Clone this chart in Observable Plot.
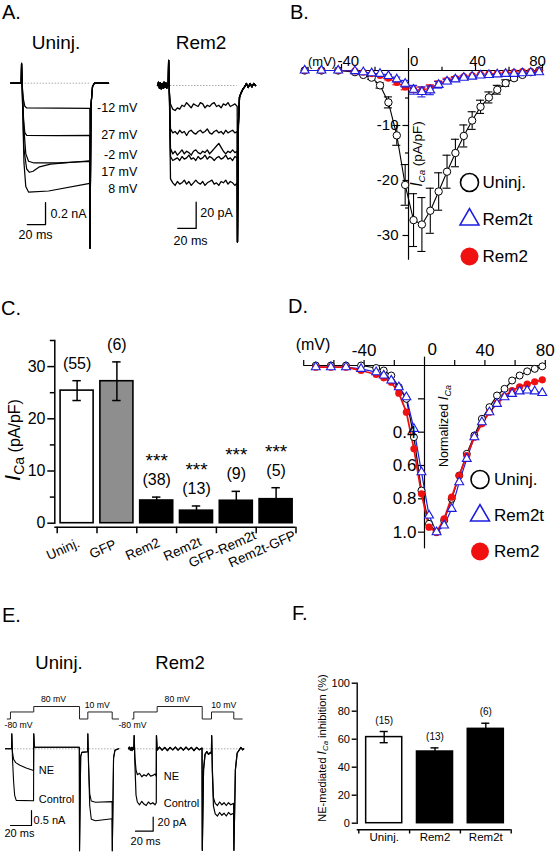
<!DOCTYPE html>
<html><head><meta charset="utf-8">
<script src="https://cdn.jsdelivr.net/npm/d3@7"></script>
<script src="https://cdn.jsdelivr.net/npm/@observablehq/plot@0.6"></script>
<style>
body{margin:0;background:#fff;}
#fig{position:relative;width:556px;height:852px;overflow:hidden;font-family:"Liberation Sans",Arial,Helvetica,sans-serif;color:#000;background:#fff;}
#fig svg{position:absolute;left:0;top:0;}
.lbl{position:absolute;white-space:nowrap;line-height:1;}
.sub{font-size:0.72em;position:relative;top:0.3em;}
</style></head><body><div id="fig"></div>
<script>
// ================= DATA =================
// Panel A (time ms, current nA / pA)
const aUninjPre = [[-11.5,0],[0,0],[0.4,0.18]];
const aUninjTail = [[75.2,-1.5],[76.3,-0.2],[78,-0.03],[80,0],[95.5,0]];
const aUninjM12 = [[1.2,-0.03],[2.5,-0.15],[4,-0.21],[6,-0.225],[40,-0.226],[75,-0.228]];
const aUninj27 = [[1.2,-0.05],[2.5,-0.33],[4,-0.45],[6,-0.475],[40,-0.476],[75,-0.475]];
const aUninjM2 = [[1.5,-0.1],[3,-0.42],[5,-0.64],[8,-0.71],[14,-0.725],[40,-0.725],[75,-0.71]];
const aUninj17 = [[1.2,-0.1],[3,-0.6],[6,-0.78],[9,-0.81],[13,-0.8],[20,-0.76],[32,-0.735],[75,-0.705]];
const aUninj8 = [[1.2,-0.1],[3,-0.72],[5,-0.94],[8,-0.99],[30,-0.98],[75,-0.91]];
const aUninjLabels = ["-12 mV","27 mV","-2 mV","17 mV","8 mV"];
const aUninjLabelLevels = [-0.225,-0.475,-0.655,-0.81,-0.965];

const aRem2Pre = [[-11.6,0],[-10.5,2.5],[-9.5,-2],[-8.5,2],[-7.5,-2.5],[-6.5,1.5],[-5.5,-2],[-4.5,2.5],[-3.5,-1.5],[-2.5,2],[-1.5,-2],[-0.5,1.5],[0,0],[0.5,19],[1.3,-6]];
const aRem2Times = [2.5,5,7.5,10,12.5,15,17.5,20,22.5,25,27.5,30,32.5,35,37.5,40,42.5,45,47.5,50,52.5,55,57.5,60,62.5,65,67.5,70,72.5,75];
const aRem2Tr1 = [-14,-18,-19,-17,-18,-15,-16,-13,-15,-17,-14,-15,-16,-13,-14,-17,-15,-16,-14,-13,-16,-15,-17,-14,-15,-13,-16,-15,-14,-16];
const aRem2Tr2 = [-33,-36,-35,-37,-34,-36,-35,-38,-35,-34,-36,-37,-35,-34,-36,-35,-33,-36,-37,-35,-34,-36,-35,-37,-34,-36,-35,-34,-36,-35];
const aRem2Tr3 = [-48,-52,-50,-53,-51,-49,-52,-50,-51,-53,-50,-49,-51,-52,-50,-51,-49,-52,-50,-48,-46,-44,-47,-50,-52,-50,-51,-49,-51,-50];
const aRem2Tr4 = [-54,-57,-56,-55,-57,-54,-56,-55,-53,-56,-55,-57,-54,-56,-55,-53,-56,-54,-55,-57,-55,-54,-56,-55,-53,-56,-55,-57,-54,-55];
const aRem2Tr5 = [-71,-74,-76,-73,-75,-74,-72,-75,-73,-76,-74,-72,-74,-75,-73,-76,-74,-73,-72,-75,-74,-76,-73,-74,-72,-75,-73,-74,-76,-74];
const aRem2Tail = [[75.3,-119],[76.3,-30],[77.5,-9],[79,-6],[81,-3],[83,-1],[85,1.5],[87,-1.5],[89,1.5],[91,-1],[93,1.5],[95,0]];

// Panel B: I-V (pA/pF)
const bVoltage = [-62,-52,-42,-32,-27,-22,-17,-12,-7,-2,3,8,13,18,23,28,33,38,43,48,53,58,63,68,73,78];
const bUninj = [0,0,0,-0.3,-0.8,-1.3,-2.7,-5.8,-11.8,-20.8,-27.2,-28,-25.5,-22,-18.4,-15,-11.9,-9.1,-6.6,-4.9,-3.5,-2.3,-1.4,-0.8,-0.3,0];
const bUninjErr = [0,0,0,0.1,0.2,0.3,0.5,1,1.8,3.7,4.8,4.9,4.1,3.4,3,2.5,2,1.6,1.2,1,0.8,0.6,0.4,0.3,0.2,0.1];
const bRem2t = [0,0,0,-0.1,-0.3,-0.5,-0.6,-1.0,-1.6,-2.4,-3.5,-3.9,-3.6,-2.6,-2.0,-1.6,-1.3,-1.1,-0.9,-0.8,-0.7,-0.6,-0.6,-0.5,-0.4,-0.3];
const bRem2tErr = [0,0,0,0,0.1,0.1,0.2,0.3,0.4,0.6,0.8,0.9,0.8,0.6,0.4,0.3,0.3,0.2,0.2,0.2,0.1,0.1,0.1,0.1,0.1,0.1];
const bRem2 = [0,0,0,-0.1,-0.3,-0.6,-0.9,-1.4,-2.2,-3.0,-3.4,-3.6,-3.2,-2.4,-1.8,-1.4,-1.1,-0.9,-0.7,-0.6,-0.5,-0.4,-0.3,-0.2,-0.2,-0.1];
const bRem2Err = [0,0,0,0,0.1,0.1,0.2,0.3,0.4,0.5,0.6,0.6,0.6,0.5,0.4,0.3,0.2,0.2,0.2,0.1,0.1,0.1,0.1,0.1,0.1,0.1];
const bXTicksMajor = [-40,40,80];
const bXTicksMinor = [-60,-20,20,60];
const bYTicksMajor = [-10,-20,-30];
const bYTicksMinor = [-5,-15,-25];
const legendSeries = ["Uninj.","Rem2t","Rem2"];

// Panel C: bar chart
const cCats = ["Uninj.","GFP","Rem2","Rem2t","GFP-Rem2t","Rem2t-GFP"];
const cMean = [25.4,27.2,4.35,2.4,4.3,4.6];
const cErr = [1.9,3.7,0.65,0.9,1.8,2.2];
const cN = ["(55)","(6)","(38)","(13)","(9)","(5)"];
const cSig = ["","","***","***","***","***"];
const cYTicks = [0,10,20,30];
const cYMinor = [5,15,25,35];

// Panel D: normalized I-V
const dVoltage = [-72,-62,-52,-42,-32,-27,-22,-17,-12,-7,-2,3,8,13,18,23,28,33,38,43,48,53,58,63,68,73,78];
const dUninj = [0,0,0,0,0.015,0.03,0.06,0.13,0.2,0.43,0.75,0.95,1.0,0.93,0.8,0.66,0.53,0.42,0.32,0.25,0.18,0.14,0.09,0.06,0.035,0.02,0.005];
const dRem2 = [0.01,0.01,0.01,0.03,0.054,0.074,0.1,0.166,0.28,0.5,0.77,0.97,1.0,0.92,0.79,0.66,0.54,0.43,0.35,0.28,0.225,0.185,0.15,0.128,0.112,0.098,0.086];
const dRem2t = [0.01,0.01,0.01,0.02,0.04,0.06,0.09,0.13,0.19,0.38,0.64,0.9,1.0,0.96,0.86,0.70,0.56,0.43,0.34,0.28,0.23,0.19,0.17,0.155,0.15,0.155,0.165];
const dXTicks = [-80,-60,-40,-20,20,40,60,80];
const dXLabels = [-40,40,80];
const dYTicks = [0.2,0.4,0.6,0.8,1.0];
const dYLabels = [0.4,0.6,0.8,1.0];

// Panel E: voltage protocols (mV) and currents (nA / pA)
const eUninjProtocol = [[-4.1,-80],[-1,-80],[-1,10],[21.2,10],[21.2,80],[64.8,80],[64.8,-80],[72.7,-80],[72.7,10],[95.9,10],[95.9,-80],[102,-80]];
const eRem2Protocol = [[-1.8,-80],[0,-80],[0,10],[26.4,10],[26.4,80],[77.3,80],[77.3,-80],[87.8,-80],[87.8,10],[113,10],[113,-80],[122.5,-80]];
const eUninjPre = [[-5.7,0],[0,0],[0.3,0.5]];
const eUninjMid = [[21.2,0.5],[21.8,0.05],[64.6,0.05],[64.8,-3.4],[65.9,-0.25],[67,-0.12],[72.5,-0.1],[72.7,0.5]];
const eUninjEnd = [[96,-3.4],[97.2,-0.3],[98.5,-0.05],[102,0]];
const eUninjCtrl1 = [[0.9,-0.3],[2,-1.1],[3,-1.55],[4.5,-1.72],[21,-1.73]];
const eUninjNE1 = [[0.9,-0.1],[2,-0.35],[4,-0.46],[8,-0.55],[14,-0.64],[21,-0.72]];
const eUninjCtrl2 = [[73.4,-0.6],[74.5,-1.9],[76,-2.35],[80,-2.4],[95.8,-2.33]];
const eUninjNE2 = [[73.4,-0.5],[74.5,-1.5],[76,-1.74],[80,-1.78],[95.8,-1.76]];
const eRem2Pre = [[-6,0],[-5,2.5],[-4,-2],[-3,2],[-2,-2.5],[-1,2],[-0.3,-1],[0,0],[0.4,19]];
const eRem2Ctrl1 = [[1.2,-20],[2.5,-66],[4,-76],[6.5,-80],[9,-75],[11.5,-79],[14,-81],[16.5,-76],[19,-79],[21.5,-77],[24,-80],[25.4,-77]];
const eRem2NE1 = [[1.2,-12],[2.5,-30],[4,-37],[6.5,-35],[9,-40],[11.5,-37],[14,-39],[16.5,-35],[19,-39],[21.5,-38],[24,-36],[25.4,-39]];
const eRem2Mid = [[25.6,19],[26.4,-2],[29,2.5],[32,-2],[35,2],[38,-2.5],[41,2],[44,-1.5],[47,2.5],[50,-2],[53,2],[56,-2],[59,2.5],[62,-1.5],[65,2],[68,-2.5],[71,2],[74,-1.5],[77.1,1],[77.4,-145],[78.8,-30],[80.5,-8],[82.5,-4],[84.5,-8],[86.5,-5],[87.7,-7],[88,19]];
const eRem2Ctrl2 = [[88.8,-35],[90,-82],[92,-93],[94.5,-96],[97,-91],[99.5,-95],[102,-92],[104.5,-96],[107,-91],[109.5,-94],[112.8,-92]];
const eRem2NE2 = [[88.8,-30],[90,-70],[92,-78],[94.5,-81],[97,-76],[99.5,-80],[102,-77],[104.5,-81],[107,-77],[109.5,-80],[112.8,-78]];
const eRem2End = [[113.1,-145],[114.8,-30],[116.8,-6],[119,-2],[121,2],[123,-1.5],[124.3,0]];

// Panel F: bar chart
const fCats = ["Uninj.","Rem2","Rem2t"];
const fMean = [61.5,51.2,67.4];
const fErr = [4.0,2.6,4.0];
const fN = ["(15)","(13)","(6)"];
const fYTicks = [0,20,40,60,80,100];

// ================= RENDERING =================
const fig = document.getElementById("fig");
const FONT = '"Liberation Sans", Arial, Helvetica, sans-serif';
const RED = "#f01010", BLUE = "#1c1ce0";
function add(opts) {
  const svg = Plot.plot(Object.assign({
    width: 556, height: 852, margin: 0,
    style: {background: "transparent", overflow: "visible", fontFamily: FONT, color: "black"}
  }, opts));
  svg.style.position = "absolute"; svg.style.left = "0px"; svg.style.top = "0px";
  fig.appendChild(svg);
  return svg;
}
function label(html, x, y, size, anchor = "middle", rotate = 0) {
  const d = document.createElement("div");
  d.className = "lbl";
  d.innerHTML = html;
  d.style.left = x + "px"; d.style.top = y + "px"; d.style.fontSize = size + "px";
  const tx = anchor === "start" ? "0%" : anchor === "end" ? "-100%" : "-50%";
  d.style.transform = `translate(${tx},-50%)` + (rotate ? ` rotate(${rotate}deg)` : "");
  fig.appendChild(d);
}
const XY = {x: d => d[0], y: d => d[1]};
const bar = (o, dx, dy) => [[o[0], o[1]], [o[0] + dx, o[1]], [o[0] + dx, o[1] + dy]];

// ---- Panel A: Uninj traces ----
const aUninjTraces = [aUninjM12, aUninj27, aUninjM2, aUninj17, aUninj8].map(b => [...aUninjPre, ...b, ...aUninjTail]);
add({
  x: {domain: [0, 75], range: [20.7, 89.3], axis: null},
  y: {domain: [0, -1], range: [82.7, 192.7], axis: null},
  marks: [
    Plot.ruleY([0], {x1: 1, x2: 75, stroke: "#888", strokeWidth: 0.7, strokeDasharray: "1.5,1.5"}),
    ...aUninjTraces.map(tr => Plot.line(tr, {...XY, stroke: "black", strokeWidth: 1.2})),
    Plot.text(aUninjLabels, {x: 127, y: (d, i) => aUninjLabelLevels[i], text: d => d, textAnchor: "end", fontSize: 12.5}),
    Plot.line(bar([6.6, -1.285], 20, 0.2), {...XY, stroke: "black", strokeWidth: 1.3}),
    Plot.text(["0.2 nA"], {x: 32, y: -1.185, text: d => d, textAnchor: "start", fontSize: 12.5}),
    Plot.text(["20 ms"], {x: -2.95, y: -1.38, text: d => d, textAnchor: "start", fontSize: 12.5})
  ]
});
// ---- Panel A: Rem2 traces ----
const aRem2Traces = [aRem2Tr1, aRem2Tr2, aRem2Tr3, aRem2Tr4, aRem2Tr5].map(v => [...aRem2Pre, ...aRem2Times.map((t, i) => [t, v[i]]), ...aRem2Tail]);
add({
  x: {domain: [0, 75], range: [167.7, 236.7], axis: null},
  y: {domain: [0, -100], range: [85, 216.5], axis: null},
  marks: [
    Plot.ruleY([0], {x1: 2.5, x2: 75, stroke: "#888", strokeWidth: 0.7, strokeDasharray: "1.5,1.5"}),
    ...aRem2Traces.map(tr => Plot.line(tr, {...XY, stroke: "black", strokeWidth: 1.3})),
    Plot.line(bar([10.4, -108.7], 20, 20), {...XY, stroke: "black", strokeWidth: 1.3}),
    Plot.text(["20 pA"], {x: 34.8, y: -97.3, text: d => d, textAnchor: "start", fontSize: 12.5}),
    Plot.text(["20 ms"], {x: 5.8, y: -117.9, text: d => d, textAnchor: "start", fontSize: 12.5})
  ]
});

// ---- Panel B ----
const rows = (V, vals, errs) => V.map((v, i) => ({v, m: vals[i], e: errs ? errs[i] : 0}));
const bU = rows(bVoltage, bUninj, bUninjErr), bR = rows(bVoltage, bRem2, bRem2Err), bT = rows(bVoltage, bRem2t, bRem2tErr);
function errMarks(data, color, half) {
  const r = data.filter(d => d.e >= 0.3);
  return [
    Plot.ruleX(r, {x: "v", y1: d => d.m - d.e, y2: d => d.m + d.e, stroke: color, strokeWidth: 1.1}),
    Plot.ruleY(r, {y: d => d.m - d.e, x1: d => d.v - half, x2: d => d.v + half, stroke: color, strokeWidth: 1.1}),
    Plot.ruleY(r, {y: d => d.m + d.e, x1: d => d.v - half, x2: d => d.v + half, stroke: color, strokeWidth: 1.1})
  ];
}
add({
  x: {domain: [-63, 80], range: [302.5, 542], axis: null},
  y: {domain: [0, -34], range: [70, 257], axis: null},
  marks: [
    Plot.ruleY([0], {x1: -63, x2: 80, strokeWidth: 1.2}),
    Plot.ruleX([0], {y1: 4, y2: -34.5, strokeWidth: 1.2}),
    Plot.ruleX(bXTicksMajor, {x: d => d, y1: 0, y2: 1.1, strokeWidth: 1.2}),
    Plot.ruleX(bXTicksMinor, {x: d => d, y1: 0, y2: 0.6, strokeWidth: 1.2}),
    Plot.ruleY(bYTicksMajor, {y: d => d, x1: -3.3, x2: 0, strokeWidth: 1.2}),
    Plot.ruleY(bYTicksMinor, {y: d => d, x1: -1.8, x2: 0, strokeWidth: 1.2}),
    Plot.text(bYTicksMajor, {x: 0, y: d => d, text: d => String(d), textAnchor: "end", dx: -10, fontSize: 15}),
    Plot.text([-40], {x: d => d, y: 0, text: d => String(d), textAnchor: "start", dx: -4, dy: -9, fontSize: 15}),
    Plot.text([0], {x: d => d, y: 0, text: d => String(d), textAnchor: "start", dx: 1.5, dy: -9, fontSize: 15}),
    Plot.text([40], {x: d => d, y: 0, text: d => String(d), dx: 2, dy: -9, fontSize: 15}),
    Plot.text([80], {x: d => d, y: 0, text: d => String(d), dx: -5, dy: -9, fontSize: 15}),
    Plot.text(["(mV)"], {x: -63, y: 0, text: d => d, textAnchor: "start", dx: 5, dy: -9, fontSize: 13}),
    Plot.line(bU, {x: "v", y: "m", stroke: "black", strokeWidth: 1.1}),
    ...errMarks(bU, "black", 2.4),
    Plot.dot(bU, {x: "v", y: "m", r: 3.7, fill: "white", stroke: "black", strokeWidth: 1}),
    Plot.line(bR, {x: "v", y: "m", stroke: RED, strokeWidth: 1.1}),
    ...errMarks(bR, RED, 2.4),
    Plot.dot(bR, {x: "v", y: "m", r: 3.5, fill: RED}),
    Plot.line(bT, {x: "v", y: "m", stroke: BLUE, strokeWidth: 1.1}),
    ...errMarks(bT, BLUE, 2.4),
    Plot.dot(bT, {x: "v", y: "m", r: 3.3, symbol: "triangle", fill: "white", stroke: BLUE, strokeWidth: 1.1})
  ]
});
function legend(xc, y0, y1, dx) {
  add({
    x: {domain: [0, 1], range: [xc, xc + 1], axis: null},
    y: {type: "point", domain: legendSeries, range: [y0, y1], padding: 0, axis: null},
    marks: [
      Plot.dot(["Uninj."], {x: 0, y: d => d, r: 9, fill: "white", stroke: "black", strokeWidth: 1.6}),
      Plot.dot(["Rem2t"], {x: 0, y: d => d, r: 7, symbol: "triangle", fill: "white", stroke: BLUE, strokeWidth: 1.6}),
      Plot.dot(["Rem2"], {x: 0, y: d => d, r: 9, fill: RED}),
      Plot.text(legendSeries, {x: 0, y: d => d, text: d => d, textAnchor: "start", dx: dx, fontSize: 17})
    ]
  });
}
legend(469, 181.7, 256.7, 13);

// ---- Panel C ----
const cData = cCats.map((c, i) => ({cat: c, mean: cMean[i], err: cErr[i], n: cN[i], sig: cSig[i]}));
add({
  marginLeft: 54.3, marginTop: 340, marginBottom: 852 - 522.7, marginRight: 556 - 295.5,
  x: {type: "band", domain: cCats, range: [56.7, 295.5], paddingInner: 0.17, paddingOuter: 0.085, round: false, axis: null},
  y: {domain: [0, 35], label: null, axis: null},
  color: {type: "ordinal", domain: cCats, range: ["white", "#8e8e8e", "black", "black", "black", "black"]},
  marks: [
    Plot.barY(cData, {x: "cat", y: "mean", fill: "cat", stroke: "black", strokeWidth: 1.6}),
    Plot.ruleX(cData, {x: "cat", y1: d => d.mean - d.err, y2: d => d.mean + d.err, strokeWidth: 1.5}),
    Plot.tickY(cData, {x: "cat", y: d => d.mean + d.err, inset: 12.3, strokeWidth: 1.5}),
    Plot.tickY(cData, {x: "cat", y: d => d.mean - d.err, inset: 12.3, strokeWidth: 1.5}),
    Plot.text(cData, {x: "cat", y: d => d.mean + d.err, text: "n", dy: -17, fontSize: 16}),
    Plot.text(cData.filter(d => d.sig), {x: "cat", y: d => d.mean + d.err, text: "sig", dy: -36, fontSize: 19}),
    Plot.frame({anchor: "left", strokeWidth: 1.5}),
    Plot.axisY({ticks: cYTicks, tickSize: 7, tickPadding: 2.3, fontSize: 16, tickFormat: d => String(d), label: null, strokeWidth: 1.5}),
    Plot.axisY({ticks: cYMinor, tickSize: 4.5, tickFormat: () => "", label: null, strokeWidth: 1.5}),
    Plot.ruleY([0], {dy: 4, strokeWidth: 1.5}),
    Plot.ruleX(cCats, {x: d => d, y1: 0, y2: -1.25, dy: 4, dx: -19.9, strokeWidth: 1.5}),
    Plot.ruleX(cCats.slice(-1), {x: d => d, y1: 0, y2: -1.25, dy: 4, dx: 19.9, strokeWidth: 1.5}),
    Plot.text(cCats, {x: d => d, y: 0, text: d => d, dy: 26, dx: -14, rotate: -24, fontSize: 13.5})
  ]
});

// ---- Panel D ----
const dU = rows(dVoltage, dUninj), dR = rows(dVoltage, dRem2), dT = rows(dVoltage, dRem2t);
add({
  x: {domain: [-80, 80], range: [303.2, 544.8], axis: null},
  y: {domain: [0, 1.05], range: [365, 540], axis: null},
  marks: [
    Plot.ruleY([0], {x1: -80, x2: 80, strokeWidth: 1.2}),
    Plot.ruleX([0], {y1: -0.05, y2: 1.1, strokeWidth: 1.2}),
    Plot.ruleX(dXTicks, {x: d => d, y1: 0, y2: -0.03, strokeWidth: 1.2}),
    Plot.ruleY(dYTicks, {y: d => d, x1: -4, x2: 0, strokeWidth: 1.2}),
    Plot.line(dU, {x: "v", y: "m", stroke: "black", strokeWidth: 1.2}),
    Plot.line(dT, {x: "v", y: "m", stroke: BLUE, strokeWidth: 1.2}),
    Plot.line(dR, {x: "v", y: "m", stroke: RED, strokeWidth: 1.8}),
    Plot.dot(dU, {x: "v", y: "m", r: 3.5, fill: "white", stroke: "black", strokeWidth: 1}),
    Plot.dot(dR, {x: "v", y: "m", r: 3.6, fill: RED}),
    Plot.dot(dT, {x: "v", y: "m", r: 3.3, symbol: "triangle", fill: "white", stroke: BLUE, strokeWidth: 1.1}),
    Plot.text(dYLabels, {x: 0, y: d => d, text: d => d.toFixed(1), textAnchor: "end", dx: -8, fontSize: 17}),
    Plot.text(dXLabels, {x: d => d, y: 0, text: d => String(d), dy: -15, fontSize: 17}),
    Plot.text([0], {x: d => d, y: 0, text: d => String(d), dx: 7.7, dy: -16, fontSize: 17}),
    Plot.text(["(mV)"], {x: -80, y: 0, text: d => d, textAnchor: "start", dx: -8, dy: -21, fontSize: 16})
  ]
});
legend(479.5, 478.5, 552, 14);

// ---- Panel E ----
function protocol(data, range, labels) {
  add({
    x: {domain: [0, 100], range: range, axis: null},
    y: {domain: [-80, 80], range: [718.5, 706], axis: null},
    marks: [
      Plot.line(data, {...XY, stroke: "#222", strokeWidth: 1}),
      Plot.text(labels.filter(d => d.v > 0), {x: d => d.t, y: d => d.v, text: d => d.text, dy: -7, fontSize: 8.7}),
      Plot.text(labels.filter(d => d.v < 0), {x: d => d.t, y: d => d.v, text: d => d.text, dy: 6, fontSize: 8.7})
    ]
  });
}
protocol(eUninjProtocol, [11, 116], [{t: 40, v: 80, text: "80 mV"}, {t: 81.6, v: 10, text: "10 mV"}, {t: 6.7, v: -80, text: "-80 mV"}]);
protocol(eRem2Protocol, [133.3, 221.8], [{t: 49, v: 80, text: "80 mV"}, {t: 101.7, v: 10, text: "10 mV"}, {t: -1.5, v: -80, text: "-80 mV"}]);

const eUninjTraces = [
  [...eUninjPre, ...eUninjCtrl1, ...eUninjMid, ...eUninjCtrl2, ...eUninjEnd],
  [...eUninjPre, ...eUninjNE1, ...eUninjMid, ...eUninjNE2, ...eUninjEnd]
];
add({
  x: {domain: [0, 100], range: [11, 116], axis: null},
  y: {domain: [0, -1], range: [748.3, 778.3], axis: null},
  marks: [
    Plot.ruleY([0], {x1: -5.7, x2: 104.8, stroke: "#888", strokeWidth: 0.7, strokeDasharray: "1.5,1.5"}),
    ...eUninjTraces.map(tr => Plot.line(tr, {...XY, stroke: "black", strokeWidth: 1.1})),
    Plot.text(["NE", "Control"], {x: 26, y: (d, i) => [-0.72, -1.69][i], text: d => d, textAnchor: "start", fontSize: 11}),
    Plot.line(bar([-0.95, -2.557], 20, 0.5), {...XY, stroke: "black", strokeWidth: 1.2}),
    Plot.text(["0.5 nA"], {x: 21, y: -2.39, text: d => d, textAnchor: "start", fontSize: 11}),
    Plot.text(["20 ms"], {x: -6.7, y: -2.83, text: d => d, textAnchor: "start", fontSize: 11})
  ]
});
const eRem2Traces = [
  [...eRem2Pre, ...eRem2Ctrl1, ...eRem2Mid, ...eRem2Ctrl2, ...eRem2End],
  [...eRem2Pre, ...eRem2NE1, ...eRem2Mid, ...eRem2NE2, ...eRem2End]
];
add({
  x: {domain: [0, 100], range: [133.3, 221.8], axis: null},
  y: {domain: [0, -100], range: [748.3, 818.3], axis: null},
  marks: [
    Plot.ruleY([0], {x1: -6, x2: 124.3, stroke: "#888", strokeWidth: 0.7, strokeDasharray: "1.5,1.5"}),
    ...eRem2Traces.map(tr => Plot.line(tr, {...XY, stroke: "black", strokeWidth: 1.2})),
    Plot.text(["NE", "Control"], {x: 33.9, y: (d, i) => [-39.6, -78.6][i], text: d => d, textAnchor: "start", fontSize: 11}),
    Plot.line(bar([1.9, -117.7], 20, 20), {...XY, stroke: "black", strokeWidth: 1.2}),
    Plot.text(["20 pA"], {x: 26.8, y: -105.3, text: d => d, textAnchor: "start", fontSize: 11}),
    Plot.text(["20 ms"], {x: -3.7, y: -132, text: d => d, textAnchor: "start", fontSize: 11})
  ]
});

// ---- Panel F ----
const fData = fCats.map((c, i) => ({cat: c, mean: fMean[i], err: fErr[i], n: fN[i]}));
add({
  marginLeft: 356.7, marginTop: 682.7, marginBottom: 852 - 822.7, marginRight: 556 - 510.7,
  x: {type: "band", domain: fCats, range: [358.3, 510.7], paddingInner: 0.29, paddingOuter: 0.145, round: false, axis: null},
  y: {domain: [0, 100], label: null, axis: null},
  color: {type: "ordinal", domain: fCats, range: ["white", "black", "black"]},
  marks: [
    Plot.barY(fData, {x: "cat", y: "mean", fill: "cat", stroke: "black", strokeWidth: 1.5}),
    Plot.ruleX(fData, {x: "cat", y1: d => d.mean - d.err, y2: d => d.mean + d.err, strokeWidth: 1.4}),
    Plot.tickY(fData, {x: "cat", y: d => d.mean + d.err, inset: 14, strokeWidth: 1.4}),
    Plot.tickY(fData, {x: "cat", y: d => d.mean - d.err, inset: 14, strokeWidth: 1.4}),
    Plot.text(fData, {x: "cat", y: d => d.mean + d.err, text: "n", dy: -11, fontSize: 10}),
    Plot.frame({anchor: "left", strokeWidth: 1.4}),
    Plot.axisY({ticks: fYTicks, tickSize: 5, tickPadding: 2.3, fontSize: 11, tickFormat: d => String(d), label: null, strokeWidth: 1.4}),
    Plot.ruleY([0], {dy: 6.6, strokeWidth: 1.4}),
    Plot.ruleX(fCats, {x: d => d, y1: 0, y2: -3, dy: 6.6, dx: -25.4, strokeWidth: 1.4}),
    Plot.ruleX(fCats.slice(-1), {x: d => d, y1: 0, y2: -3, dy: 6.6, dx: 25.4, strokeWidth: 1.4}),
    Plot.text(fCats, {x: d => d, y: 0, text: d => d, dy: 14.5, fontSize: 11.5})
  ]
});

// ---- Text: panel letters, titles, axis titles ----
label("A.", 2, 11.5, 20, "start");
label("B.", 290, 11.5, 20, "start");
label("C.", 1, 307.5, 20, "start");
label("D.", 288, 305.5, 20, "start");
label("E.", 2, 615, 20, "start");
label("F.", 292, 612.5, 20, "start");
label("Uninj.", 56, 42, 19);
label("Rem2", 201, 42, 19);
label("Uninj.", 59, 663, 18.5);
label("Rem2", 180, 663, 18.5);
label('<i style="font-size:16px">I</i><i class="sub">Ca</i> (pA/pF)', 417, 153.5, 13.5, "middle", -90);
label('<i style="font-size:22px">I</i><span class="sub" style="font-size:14px">Ca</span> (pA/pF)', 13, 440, 16, "middle", -90);
label('Normalized <i style="font-size:14px">I</i><i class="sub">Ca</i>', 443, 426, 12.5, "middle", -90);
label('NE-mediated <i style="font-size:12px">I</i><i class="sub">Ca</i> inhibition (%)', 321.7, 748, 11, "middle", -90);
</script></body></html>
